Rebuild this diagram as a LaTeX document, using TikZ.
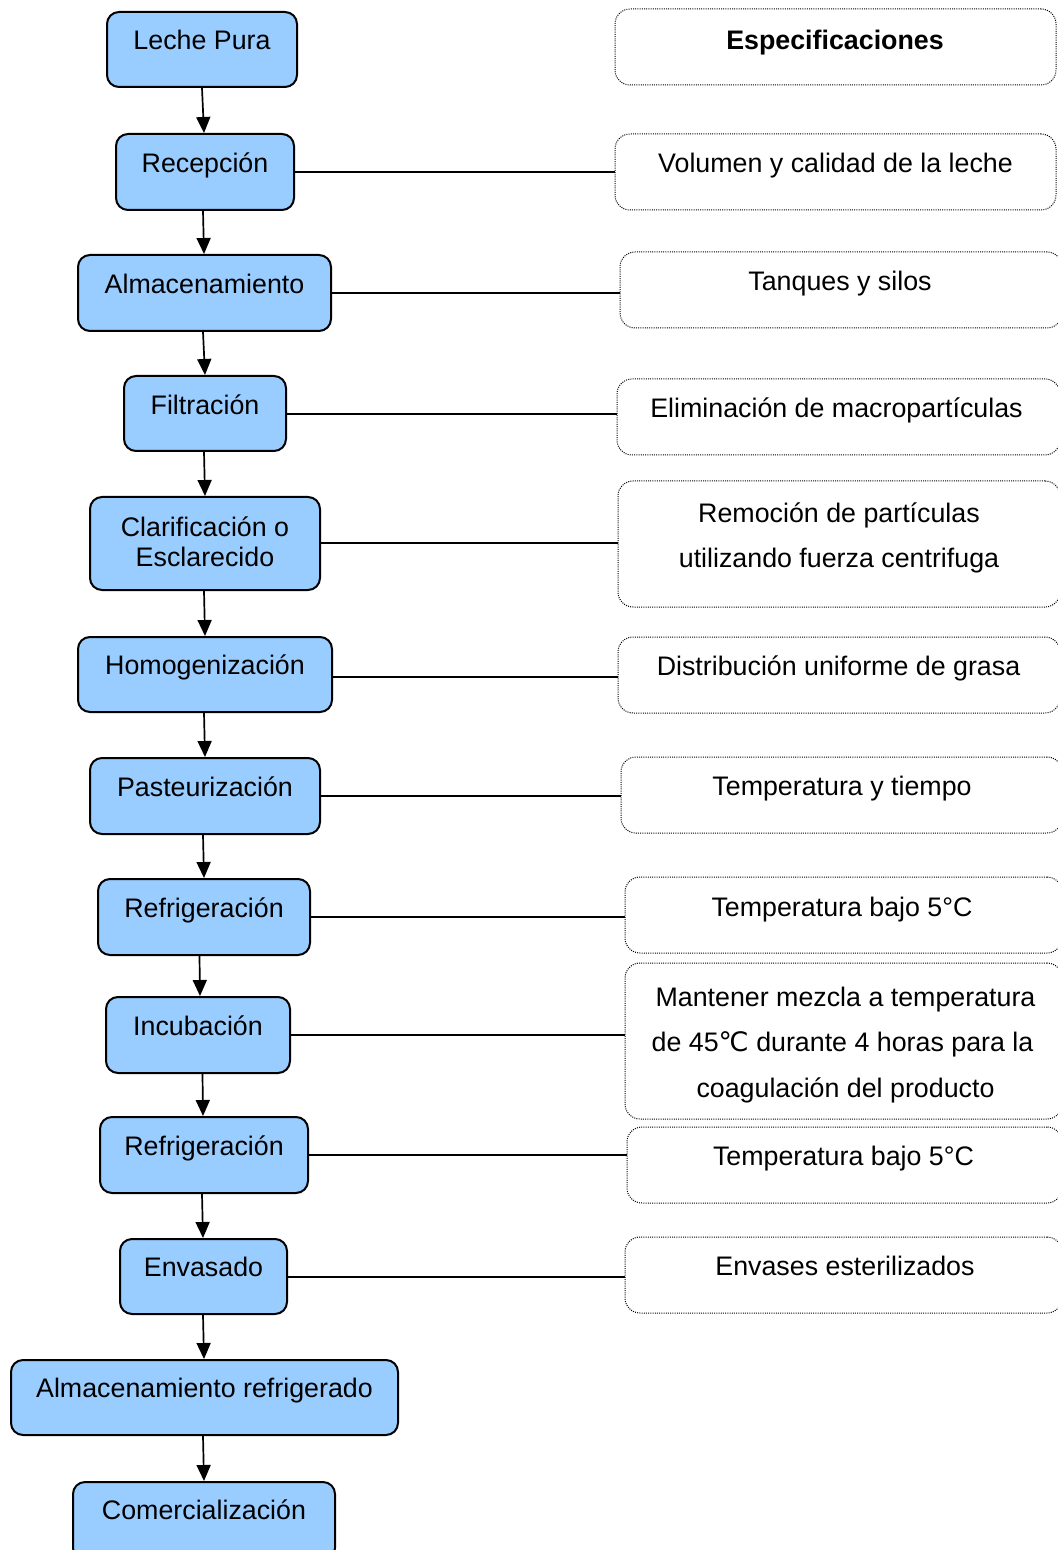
\documentclass[tikz,border=0pt]{standalone}
\usepackage{fontspec}
\setmainfont{Liberation Sans}
\newfontfamily\symfont{DejaVu Sans}
\usetikzlibrary{fit,arrows.meta}
\definecolor{procblue}{HTML}{99CCFF}
\tikzset{
  proc/.style={draw=black, line width=1pt, fill=procblue, rounded corners=6pt, inner sep=0pt},
  spec/.style={draw=black, line width=0.5pt, dash pattern=on 0.5pt off 0.6pt, rounded corners=7.5pt, inner sep=0pt},
  lbl/.style={anchor=base, inner sep=0pt, font=\fontsize{13.4}{15}\selectfont},
  arr/.style={line width=0.85pt, -{Triangle[length=8pt,width=7pt]}},
  link/.style={line width=0.95pt},
}
\begin{document}
\begin{tikzpicture}[x=0.5pt,y=-0.5pt]
\clip (0,0) rectangle (1058,1550);
\useasboundingbox (0,0) rectangle (1058,1550);
\fill[white] (0,0) rectangle (1058,1550);

% process steps
\node[proc, fit={(107,12) (297,87)}] (p1) {};
\node[lbl] (p1t) at (202,49.5) {Leche Pura};
\node[proc, fit={(116,134) (294,210)}] (p2) {};
\node[lbl] (p2t) at (205,172.5) {Recepción};
\node[proc, fit={(78,255) (331,331)}] (p3) {};
\node[lbl] (p3t) at (204.5,293.5) {Almacenamiento};
\node[proc, fit={(124,376) (286,451)}] (p4) {};
\node[lbl] (p4t) at (205,414.5) {Filtración};
\node[proc, fit={(90,497) (320,590)}] (p5) {};
\node[lbl] (p5a) at (205,536.5) {Clarificación o};
\node[lbl] (p5b) at (205,566.5) {Esclarecido};
\node[proc, fit={(78,637) (332,712)}] (p6) {};
\node[lbl] (p6t) at (205,674.5) {Homogenización};
\node[proc, fit={(90,758) (320,834)}] (p7) {};
\node[lbl] (p7t) at (205,796.5) {Pasteurización};
\node[proc, fit={(98,879) (310,955)}] (p8) {};
\node[lbl] (p8t) at (204,917.5) {Refrigeración};
\node[proc, fit={(106,997) (290,1073)}] (p9) {};
\node[lbl] (p9t) at (198,1035.5) {Incubación};
\node[proc, fit={(100,1117) (308,1193)}] (p10) {};
\node[lbl] (p10t) at (204,1155.5) {Refrigeración};
\node[proc, fit={(120,1239) (287,1314)}] (p11) {};
\node[lbl] (p11t) at (203.5,1276.5) {Envasado};
\node[proc, fit={(11,1360) (398,1435)}] (p12) {};
\node[lbl] (p12t) at (204.5,1397.5) {Almacenamiento refrigerado};
\node[proc, fit={(73,1482) (335,1560)}] (p13) {};
\node[lbl] (p13t) at (204,1519.5) {Comercialización};

% specification boxes
\node[spec, fit={(615,9) (1056,85)}] (s1) {};
\node[lbl, font=\fontsize{13.4}{15}\selectfont\bfseries] (s1t) at (835,49.5) {Especificaciones};
\node[spec, fit={(615,134) (1056,210)}] (s2) {};
\node[lbl] (s2t) at (835.5,172.5) {Volumen y calidad de la leche};
\node[spec, fit={(620,252) (1062,328)}] (s3) {};
\node[lbl] (s3t) at (840,290.5) {Tanques y silos};
\node[spec, fit={(617,379) (1060,455)}] (s4) {};
\node[lbl] (s4t) at (836.5,417.5) {Eliminación de macropartículas};
\node[spec, fit={(618,481) (1060,607)}] (s5) {};
\node[lbl] (s5a) at (839,522.5) {Remoción de partículas};
\node[lbl] (s5b) at (839,567.5) {utilizando fuerza centrifuga};
\node[spec, fit={(618,637) (1060,713)}] (s6) {};
\node[lbl] (s6t) at (838.5,675.5) {Distribución uniforme de grasa};
\node[spec, fit={(621,757) (1062,833)}] (s7) {};
\node[lbl] (s7t) at (842,795.5) {Temperatura y tiempo};
\node[spec, fit={(625,877) (1062,953)}] (s8) {};
\node[lbl] (s8t) at (842,916.5) {Temperatura bajo 5°C};
\node[spec, fit={(625,963) (1062,1119)}] (s9) {};
\node[lbl] (s9a) at (845.5,1006.5) {Mantener mezcla a temperatura};
\node[lbl] (s9b) at (842.5,1051.5) {de 45{\symfont ℃} durante 4 horas para la};
\node[lbl] (s9c) at (845.5,1097.5) {coagulación del producto};
\node[spec, fit={(627,1127) (1062,1203)}] (s10) {};
\node[lbl] (s10t) at (843.5,1165.5) {Temperatura bajo 5°C};
\node[spec, fit={(625,1237) (1062,1313)}] (s11) {};
\node[lbl] (s11t) at (845,1275.5) {Envases esterilizados};

% flow arrows (offsets in px from the box centres)
\foreach \a/\b/\da/\db in {p1/p2/0/-1, p2/p3/-2/-0.5, p3/p4/-1.5/0, p4/p5/-1/0,
    p5/p6/-1/0, p6/p7/-1/0, p7/p8/-2/0, p8/p9/-4.5/2, p9/p10/4.5/-1,
    p10/p11/-2/-0.5, p11/p12/-0.5/-0.5, p12/p13/-1.5/0}
  \draw[arr] ([xshift={\da*0.5pt}]\a.south) -- ([xshift={\db*0.5pt}]\b.north);

% links from steps to their specifications (vertical offsets in px, downwards)
\foreach \a/\b/\dy in {p2/s2/0, p3/s3/0, p4/s4/0.5, p5/s5/-0.5, p6/s6/2.5,
    p7/s7/0, p8/s8/0, p9/s9/0, p10/s10/0, p11/s11/0.5}
  \draw[link] ([yshift={-\dy*0.5pt}]\a.east) -- ([yshift={-\dy*0.5pt}]\a.east -| \b.west);
\end{tikzpicture}
\end{document}
